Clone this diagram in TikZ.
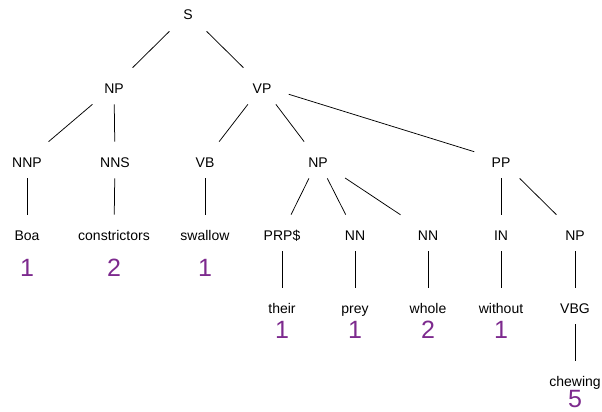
\documentclass[tikz,border=0pt]{standalone}
\usepackage{fontspec}
\setmainfont{Liberation Sans}
\definecolor{countcol}{RGB}{125,42,142}
\begin{document}
\begin{tikzpicture}[
    x=1pt, y=-1pt,
    line width=0.75pt,
    every node/.style={draw=none, anchor=base, inner xsep=17pt, inner ysep=8pt,
        text height=17pt, text depth=3pt, font=\fontsize{14}{16}\selectfont},
    count/.style={inner sep=0pt, text height=, text depth=,
        font=\fontsize{25}{28}\selectfont, text=countcol}
]
\useasboundingbox (0,0) rectangle (602,412);
% phrase levels
\node (s)   at (188,20)  {S};
\node (np)  at (114,93)  {NP};
\node (vp)  at (262,93)  {VP};
\node (nnp) at (27,167)  {NNP};
\node (nns) at (115,167) {NNS};
\node (vb)  at (205,167) {VB};
\node (np2) at (318,167) {NP};
\node (pp)  at (501,167) {PP};
\node (boa)          at (27,240)  {Boa};
\node (constrictors) at (114,240) {constrictors};
\node (swallow)      at (205,240) {swallow};
\node (prp)          at (282,240) {PRP\$};
\node (nn1)          at (355,240) {NN};
\node (nn2)          at (428,240) {NN};
\node (in1)          at (501,240) {IN};
\node (np3)          at (575,240) {NP};
\node (their)   at (282,313) {their};
\node (prey)    at (355,313) {prey};
\node (whole)   at (428,313) {whole};
\node (without) at (501,313) {without};
\node (vbg)     at (575,313) {VBG};
\node (chewing) at (575,386) {chewing};
% counts
\node[count] (c-boa)          at (27,276)  {1};
\node[count] (c-constrictors) at (114,276) {2};
\node[count] (c-swallow)      at (205,276) {1};
\node[count] (c-their)        at (282,338) {1};
\node[count] (c-prey)         at (355,338) {1};
\node[count] (c-whole)        at (428,338) {2};
\node[count] (c-without)      at (501,338) {1};
\node[count] (c-chewing)      at (575,407) {5};
% branches
\foreach \a/\b in {s/np, s/vp, np/nnp, np/nns, vp/vb, vp/np2, vp/pp,
        nnp/boa, nns/constrictors, vb/swallow, np2/prp, np2/nn1, np2/nn2,
        pp/in1, pp/np3, prp/their, nn1/prey, nn2/whole, in1/without,
        np3/vbg, vbg/chewing}
    \draw (\a) -- (\b);
\end{tikzpicture}
\end{document}
